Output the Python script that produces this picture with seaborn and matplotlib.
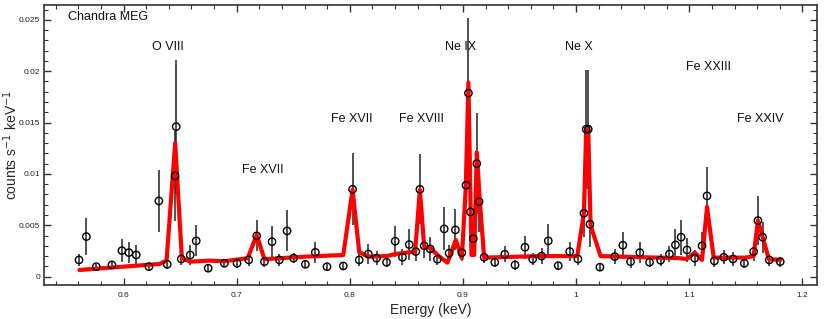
import matplotlib
matplotlib.use('Agg')
import matplotlib.pyplot as plt
import seaborn as sns
import pandas as pd
from matplotlib.ticker import MultipleLocator, FuncFormatter

# gemessene Spektralpunkte (keV, counts/s/keV, Fehler)
energy = [0.5606, 0.5671, 0.5759, 0.5897, 0.5985, 0.6047, 0.6112, 0.6224, 0.6312, 0.6386,
          0.6455, 0.6465, 0.651, 0.6589, 0.6642, 0.6748, 0.6891, 0.7003, 0.7106, 0.7177,
          0.7245, 0.7312, 0.7377, 0.7445, 0.7503, 0.7607, 0.7695, 0.7798, 0.7942, 0.8024,
          0.8083, 0.8163, 0.8236, 0.8324, 0.8401, 0.8465, 0.8525, 0.8583, 0.8619, 0.8657,
          0.871, 0.8774, 0.8834, 0.8877, 0.8933, 0.899, 0.9027, 0.9048, 0.9066, 0.9091,
          0.9122, 0.9142, 0.9187, 0.9281, 0.9369, 0.946, 0.9548, 0.9616, 0.9695, 0.9754,
          0.9842, 0.9943, 1.0016, 1.0069, 1.0089, 1.0107, 1.0122, 1.021, 1.0342, 1.0413,
          1.0481, 1.0563, 1.0649, 1.0746, 1.0825, 1.0878, 1.0928, 1.098, 1.1048, 1.1113,
          1.1157, 1.1222, 1.1305, 1.1387, 1.1487, 1.1569, 1.1607, 1.1648, 1.1707, 1.1804]
counts = [0.00163, 0.0039, 0.00097, 0.00114, 0.00253, 0.00234, 0.00211, 0.00097, 0.00737, 0.0012,
          0.0098, 0.0146, 0.00172, 0.00211, 0.00348, 0.00082, 0.0013, 0.0013, 0.00163, 0.00397,
          0.00146, 0.0034, 0.00163, 0.00445, 0.0018, 0.0012, 0.00237, 0.00097, 0.00104, 0.0085,
          0.00163, 0.0022, 0.0018, 0.0014, 0.00345, 0.00189, 0.00312, 0.00244, 0.0085, 0.003,
          0.0027, 0.0017, 0.00465, 0.00228, 0.00455, 0.00233, 0.0089, 0.01786, 0.0063, 0.0037,
          0.011, 0.0073, 0.00189, 0.0014, 0.00218, 0.00114, 0.00286, 0.0017, 0.002, 0.00348,
          0.00107, 0.00244, 0.00172, 0.00617, 0.01435, 0.01435, 0.0051, 0.00092, 0.00195, 0.00306,
          0.00146, 0.00234, 0.0014, 0.0016, 0.0022, 0.00309, 0.00384, 0.0026, 0.0018, 0.003,
          0.00786, 0.00153, 0.00189, 0.00172, 0.0013, 0.00244, 0.00546, 0.00384, 0.00163, 0.00146]
errors = [0.0006, 0.0018, 0.0003, 0.0004, 0.0011, 0.001, 0.001, 0.0004, 0.003, 0.0005,
          0.0044, 0.0065, 0.0006, 0.001, 0.0015, 0.0004, 0.0004, 0.0005, 0.0006, 0.0015,
          0.0005, 0.0015, 0.0006, 0.002, 0.0005, 0.0004, 0.001, 0.0004, 0.0004, 0.0035,
          0.0006, 0.001, 0.0007, 0.0005, 0.0015, 0.0008, 0.0015, 0.0009, 0.0034, 0.0012,
          0.0012, 0.0006, 0.0021, 0.0008, 0.002, 0.0008, 0.0015, 0.0073, 0.0013, 0.0012,
          0.0049, 0.003, 0.0006, 0.0005, 0.0008, 0.0005, 0.0011, 0.0006, 0.0008, 0.0016,
          0.0004, 0.0009, 0.0006, 0.0023, 0.0058, 0.0058, 0.0022, 0.0004, 0.0007, 0.0013,
          0.0006, 0.001, 0.0005, 0.0006, 0.0008, 0.0015, 0.0017, 0.0012, 0.0008, 0.0013,
          0.0028, 0.0006, 0.0007, 0.0007, 0.0005, 0.0009, 0.0024, 0.0015, 0.0006, 0.0005]

# Modellkurve
model_energy = [0.561, 0.632, 0.638, 0.6456, 0.6515, 0.659, 0.676, 0.689, 0.7097, 0.7177,
                0.7245, 0.7613, 0.7942, 0.8024, 0.8083, 0.8163, 0.8324, 0.8401, 0.8577, 0.8619,
                0.8657, 0.871, 0.8786, 0.8863, 0.8936, 0.899, 0.9025, 0.9048, 0.9075, 0.9099,
                0.9122, 0.9148, 0.9187, 0.967, 1.001, 1.0069, 1.0089, 1.0107, 1.0128, 1.0216,
                1.0907, 1.098, 1.1048, 1.1113, 1.1157, 1.1216, 1.1496, 1.1569, 1.1607, 1.1704, 1.1804]
model_counts = [0.00065, 0.00124, 0.00156, 0.0130, 0.0018, 0.00146, 0.00156, 0.0015, 0.0018, 0.00406,
                0.0017, 0.00195, 0.00211, 0.00845, 0.00238, 0.00195, 0.002, 0.0022, 0.00244, 0.00845,
                0.0029, 0.0028, 0.002, 0.00136, 0.00357, 0.0018, 0.00877, 0.0189, 0.00211, 0.00211,
                0.0121, 0.0075, 0.00185, 0.002, 0.002, 0.0062, 0.0143, 0.0143, 0.005, 0.002,
                0.0018, 0.00172, 0.00234, 0.00163, 0.0068, 0.00185, 0.00185, 0.002, 0.00546, 0.0017, 0.00163]

# Linienbeschriftungen
line_labels = ['O VIII', 'Fe XVII', 'Fe XVII', 'Fe XVIII', 'Ne IX', 'Ne X', 'Fe XXIII', 'Fe XXIV']
label_x = [0.6388, 0.7227, 0.8021, 0.863, 0.8983, 1.0025, 1.1172, 1.1631]
label_y = [0.02237, 0.0104, 0.01536, 0.01536, 0.02237, 0.02237, 0.02042, 0.01536]


def plot_spectrum():
    sns.set_theme(style='ticks')
    plt.rcParams['font.family'] = ['Liberation Sans', 'DejaVu Sans']

    data_df = pd.DataFrame({'energy': energy, 'counts': counts, 'err': errors})
    model_df = pd.DataFrame({'energy': model_energy, 'counts': model_counts})

    fig = plt.figure(figsize=(8.31, 3.19), dpi=100)
    ax = fig.add_axes([0.053, 0.107, 0.930, 0.877])

    ax.errorbar(data_df['energy'], data_df['counts'], yerr=data_df['err'], fmt='none',
                ecolor='#222222', elinewidth=1.1, capsize=0, zorder=2)
    sns.lineplot(data=model_df, x='energy', y='counts', color='#ff0000', linewidth=3.0,
                 sort=False, ax=ax, zorder=3)
    sns.scatterplot(data=data_df, x='energy', y='counts', marker='o', s=28,
                    facecolor='none', edgecolor='black', linewidth=1.0, ax=ax, zorder=4)

    for txt, x, y in zip(line_labels, label_x, label_y):
        ax.text(x, y, txt, ha='center', va='center', fontsize=9, color='#111111')
    ax.text(0.5506, 0.0253, 'Chandra MEG', ha='left', va='center', fontsize=9, color='#111111')

    ax.set_xlim(0.5297, 1.2128)
    ax.set_ylim(-0.0008, 0.02643)
    ax.xaxis.set_major_locator(MultipleLocator(0.1))
    ax.xaxis.set_minor_locator(MultipleLocator(0.02))
    ax.yaxis.set_major_locator(MultipleLocator(0.005))
    ax.yaxis.set_minor_locator(MultipleLocator(0.001))
    fmt = FuncFormatter(lambda v, pos: '%g' % round(v, 4))
    ax.xaxis.set_major_formatter(fmt)
    ax.yaxis.set_major_formatter(fmt)
    ax.tick_params(which='both', direction='in', top=True, right=True, color='#333333',
                   labelsize=6, labelcolor='#222222')
    ax.tick_params(which='major', length=5, width=1.0)
    ax.tick_params(axis='x', which='major', pad=5)
    ax.tick_params(axis='y', which='major', pad=3)
    ax.tick_params(which='minor', length=3, width=0.8)
    for sp in ax.spines.values():
        sp.set_color('#333333')
        sp.set_linewidth(1.2)

    ax.set_xlabel('Energy (keV)', fontsize=10, labelpad=3)
    ax.set_ylabel('counts s$^{-1}$ keV$^{-1}$', fontsize=10)
    ax.yaxis.set_label_coords(-0.031, 0.5)

    fig.savefig('out.png', dpi=100)


plot_spectrum()
